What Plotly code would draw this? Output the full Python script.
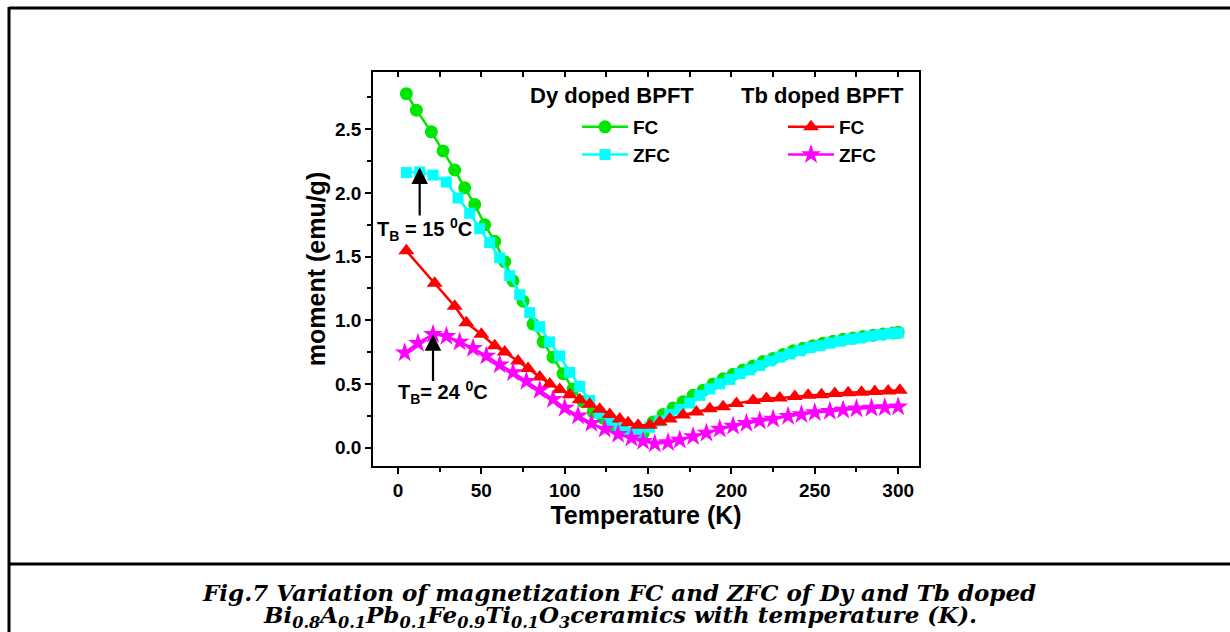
import plotly.graph_objects as go

# ---------------- data ----------------
dy_fc_T = [5, 11, 20, 27, 34, 40, 46, 52, 58, 64, 69, 75, 81, 87, 93, 99, 105, 111, 117, 123,
           129, 135, 141, 147, 153, 159, 165, 171, 177, 183, 189, 195, 201, 207, 213, 219, 225,
           231, 237, 243, 249, 255, 261, 267, 273, 279, 285, 291, 297, 300]
dy_fc_M = [2.78, 2.65, 2.48, 2.33, 2.18, 2.04, 1.91, 1.75, 1.62, 1.46, 1.31, 1.15, 0.97, 0.83,
           0.71, 0.58, 0.46, 0.36, 0.28, 0.23, 0.17, 0.13, 0.105, 0.11, 0.20, 0.26, 0.31, 0.36,
           0.41, 0.45, 0.50, 0.54, 0.575, 0.61, 0.64, 0.675, 0.70, 0.73, 0.76, 0.78, 0.80, 0.82,
           0.835, 0.85, 0.86, 0.872, 0.882, 0.892, 0.90, 0.905]

dy_zfc_T = [5, 13, 21, 29, 36, 43, 49, 55, 61, 67, 73, 79, 85, 91, 97, 103, 109, 115, 121, 127,
            133, 139, 145, 151, 157, 163, 169, 175, 181, 187, 193, 199, 205, 211, 217, 223, 229,
            235, 241, 247, 253, 259, 265, 271, 277, 283, 289, 295, 300]
dy_zfc_M = [2.16, 2.165, 2.14, 2.085, 1.96, 1.84, 1.72, 1.61, 1.49, 1.35, 1.20, 1.06, 0.95, 0.83,
            0.72, 0.59, 0.48, 0.37, 0.27, 0.20, 0.15, 0.12, 0.12, 0.16, 0.21, 0.26, 0.30, 0.35,
            0.41, 0.46, 0.50, 0.535, 0.58, 0.61, 0.645, 0.68, 0.71, 0.735, 0.76, 0.785, 0.80,
            0.82, 0.835, 0.85, 0.86, 0.875, 0.885, 0.895, 0.90]

tb_fc_T = [5, 22, 34, 41, 50, 58, 64, 72, 78, 85, 91, 97, 103, 109, 115, 121, 127, 133, 138, 144,
           151, 157, 163, 171, 179, 187, 195, 203, 213, 221, 229, 238, 246, 254, 262, 270, 278,
           286, 294, 301]
tb_fc_M = [1.545, 1.29, 1.11, 0.98, 0.89, 0.80, 0.75, 0.68, 0.62, 0.555, 0.50, 0.455, 0.415, 0.375,
           0.34, 0.30, 0.26, 0.225, 0.195, 0.175, 0.175, 0.20, 0.225, 0.255, 0.28, 0.305, 0.32,
           0.345, 0.37, 0.385, 0.39, 0.40, 0.41, 0.415, 0.425, 0.43, 0.435, 0.44, 0.445, 0.45]

tb_zfc_T = [4, 12, 21, 29, 37, 45, 53, 61, 69, 77, 85, 93, 100, 108, 116, 124, 132, 140, 147, 154,
            162, 169, 177, 185, 193, 201, 209, 217, 225, 234, 242, 250, 259, 267, 275, 284, 292, 300]
tb_zfc_M = [0.745, 0.82, 0.89, 0.875, 0.83, 0.78, 0.72, 0.65, 0.59, 0.52, 0.45, 0.38, 0.31, 0.25,
            0.19, 0.145, 0.105, 0.075, 0.05, 0.03, 0.04, 0.06, 0.087, 0.115, 0.145, 0.17, 0.19,
            0.21, 0.225, 0.245, 0.26, 0.275, 0.285, 0.295, 0.305, 0.31, 0.315, 0.32]

x_ticks = [0, 50, 100, 150, 200, 250, 300]
y_ticks = [0.0, 0.5, 1.0, 1.5, 2.0, 2.5]
y_tick_labels = ["0.0", "0.5", "1.0", "1.5", "2.0", "2.5"]

# ---------------- layout geometry ----------------
W, H = 1230, 632
L, R, T, B = 373, 919, 72, 466   # plot area in pixels


def px(xp):
    return (xp - L) / (R - L)


def py(yp):
    return (B - yp) / (B - T)


FONT = "Liberation Sans, Arial, sans-serif"
SERIF = "DejaVu Serif, Liberation Serif, serif"

GREEN = "#00e600"
CYAN = "#00ffff"
RED = "#ff0000"
MAGENTA = "#ff00ff"

fig = go.Figure()

fig.add_trace(go.Scatter(
    x=dy_fc_T, y=dy_fc_M, mode="lines+markers", name="FC", legend="legend",
    line=dict(color=GREEN, width=2.5),
    marker=dict(symbol="circle", size=13, color=GREEN)))
fig.add_trace(go.Scatter(
    x=dy_zfc_T, y=dy_zfc_M, mode="lines+markers", name="ZFC", legend="legend",
    line=dict(color=CYAN, width=2.5),
    marker=dict(symbol="square", size=11, color=CYAN)))
fig.add_trace(go.Scatter(
    x=tb_fc_T, y=tb_fc_M, mode="lines+markers", name="FC", legend="legend2",
    line=dict(color=RED, width=2.5),
    marker=dict(symbol="triangle-up", size=14, color=RED)))
fig.add_trace(go.Scatter(
    x=tb_zfc_T, y=tb_zfc_M, mode="lines+markers", name="ZFC", legend="legend2",
    line=dict(color=MAGENTA, width=2.5),
    marker=dict(symbol="star", size=15, color=MAGENTA)))
# empty trace that only registers the top axis (for its inward ticks)
fig.add_trace(go.Scatter(x=[], y=[], xaxis="x2", yaxis="y", showlegend=False,
                         hoverinfo="skip"))

X_RANGE = [-15, 312.5]
Y_RANGE = [-0.145, 2.95]


def axis_common():
    return dict(
        showline=True, linecolor="black", linewidth=1.5, mirror=True,
        showgrid=False, zeroline=False,
        ticks="outside", ticklen=6, tickwidth=1.5, tickcolor="black",
        tickfont=dict(family=FONT, size=19, color="black", weight="bold"),
    )


fig.update_layout(
    xaxis=dict(
        **axis_common(),
        range=X_RANGE, tickmode="array", tickvals=x_ticks,
        ticktext=[str(v) for v in x_ticks],
        minor=dict(ticks="outside", ticklen=4, tickwidth=1.5, tickcolor="black", dtick=25, tick0=0),
        title=dict(text="Temperature (K)",
                   font=dict(family=FONT, size=25, color="black", weight="bold"), standoff=1),
    ),
    yaxis=dict(
        **axis_common(),
        range=Y_RANGE, tickmode="array", tickvals=y_ticks, ticktext=y_tick_labels,
        minor=dict(ticks="outside", ticklen=4, tickwidth=1.5, tickcolor="black", dtick=0.25, tick0=0),
        title=dict(text="moment (emu/g)",
                   font=dict(family=FONT, size=25, color="black", weight="bold"), standoff=2),
    ),
    # top axis carrying only inward ticks
    xaxis2=dict(
        overlaying="x", side="top", anchor="y", range=X_RANGE,
        showline=False, showgrid=False, zeroline=False, showticklabels=False,
        ticks="inside", ticklen=5, tickwidth=1.5, tickcolor="black",
        tickmode="linear", tick0=0, dtick=25,
    ),
)

legend_common = dict(
    bgcolor="rgba(0,0,0,0)", borderwidth=0,
    font=dict(family=FONT, size=19, color="black", weight="bold"),
    yanchor="top", xanchor="left", itemwidth=46, tracegroupgap=0,
)

fig.update_layout(
    width=W, height=H,
    margin=dict(l=L, r=W - R, t=T, b=H - B),
    paper_bgcolor="white", plot_bgcolor="white",
    showlegend=True,
    legend=dict(**legend_common, x=px(577), y=py(108)),
    legend2=dict(**legend_common, x=px(783), y=py(108)),
)

annotations = [
    dict(text="<b>Dy doped BPFT</b>", x=px(612), y=py(96), xref="paper", yref="paper",
         xanchor="center", yanchor="middle",
         showarrow=False, font=dict(family=FONT, size=22, color="black")),
    dict(text="<b>Tb doped BPFT</b>", x=px(822), y=py(96), xref="paper", yref="paper",
         xanchor="center", yanchor="middle",
         showarrow=False, font=dict(family=FONT, size=22, color="black")),
    # arrows
    dict(x=13, y=2.2, ax=13, ay=1.81, xref="x", yref="y", axref="x", ayref="y",
         showarrow=True, arrowhead=2, arrowsize=1.5, arrowwidth=2.2, arrowcolor="black", text=""),
    dict(x=21, y=0.89, ax=21, ay=0.51, xref="x", yref="y", axref="x", ayref="y",
         showarrow=True, arrowhead=2, arrowsize=1.5, arrowwidth=2.2, arrowcolor="black", text=""),
    dict(text="<b>T<sub>B</sub> = 15 <sup>0</sup>C</b>", x=-14, y=1.71, xref="x", yref="y",
         xanchor="left", yanchor="middle", showarrow=False,
         font=dict(family=FONT, size=20, color="black")),
    dict(text="<b>T<sub>B</sub>= 24 <sup>0</sup>C</b>", x=-1.5, y=0.43, xref="x", yref="y",
         xanchor="left", yanchor="middle", showarrow=False,
         font=dict(family=FONT, size=20, color="black")),
    # caption
    dict(text="<b><i>Fig.7 Variation of magnetization FC and ZFC of Dy and Tb doped</i></b>",
         x=px(619), y=py(592), xref="paper", yref="paper", showarrow=False,
         xanchor="center", yanchor="middle",
         font=dict(family=SERIF, size=23, color="black")),
    dict(text="<b><i>Bi<sub>0.8</sub>A<sub>0.1</sub>Pb<sub>0.1</sub>Fe<sub>0.9</sub>Ti<sub>0.1</sub>"
              "O<sub>3</sub>ceramics with temperature (K).</i></b>",
         x=px(620), y=py(616), xref="paper", yref="paper", showarrow=False,
         xanchor="center", yanchor="middle",
         font=dict(family=SERIF, size=23, color="black")),
]
fig.update_layout(annotations=annotations)

# frame around figure and caption
frame = dict(type="line", xref="paper", yref="paper", line=dict(color="black", width=3))
fig.update_layout(shapes=[
    dict(frame, x0=px(9), x1=px(9), y0=py(7), y1=py(640)),
    dict(frame, x0=px(9), x1=px(1240), y0=py(8), y1=py(8)),
    dict(frame, x0=px(9), x1=px(1240), y0=py(564), y1=py(564)),
])

fig.write_html("out.html", config={"displayModeBar": False},
               post_script="document.body.style.margin='0';")
